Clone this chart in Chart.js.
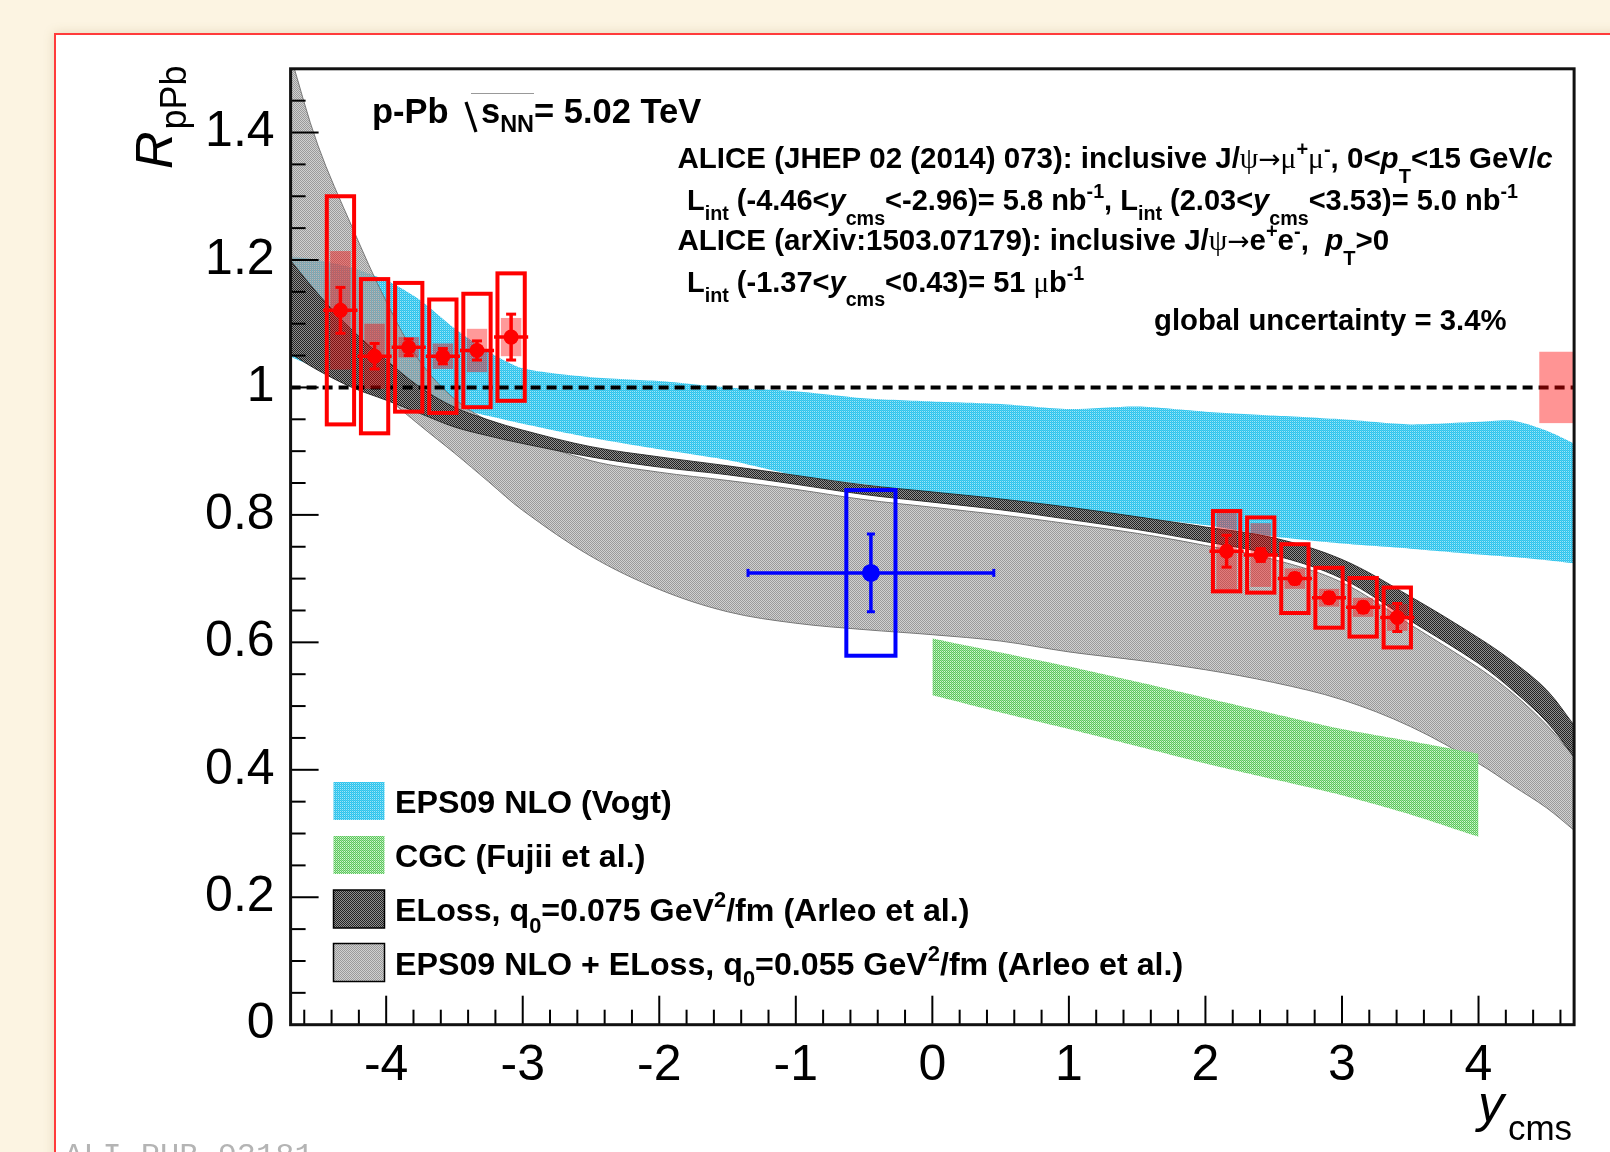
<!DOCTYPE html>
<html>
<head>
<meta charset="utf-8">
<title>ALICE J/psi RpPb vs ycms</title>
<script src="https://cdn.jsdelivr.net/npm/chart.js@4.4.1/dist/chart.umd.min.js"></script>
<style>
  html, body { margin: 0; padding: 0; }
  body { width: 1610px; height: 1152px; overflow: hidden; position: relative; background: #fcf4e2; }
  #sheet { position: absolute; left: 54px; top: 33px; width: 1600px; height: 1200px; background: #fff;
           border: 2px solid #ff3b3b; box-sizing: border-box; box-shadow: 0 0 10px rgba(160,130,70,0.25); }
  #wrap { position: absolute; left: 0; top: 0; width: 1610px; height: 1152px; }
</style>
</head>
<body>
<div id="sheet"></div>
<div id="wrap"><canvas id="rpPbChart" width="1610" height="1152"></canvas></div>
<script>
// --- bandas de modelos ---
const bandX       = [-4.7, -4.5, -4.25, -4.0, -3.75, -3.5, -3.25, -3.0, -2.5, -2.0, -1.5, -1.0, -0.5, 0, 0.5, 1.0, 1.5, 2.0, 2.5, 3.0, 3.5, 4.0, 4.25, 4.5, 4.7];
const vogtHi      = [1.206, 1.2, 1.188, 1.168, 1.137, 1.093, 1.056, 1.03, 1.016, 1.01, 1.0, 0.994, 0.983, 0.978, 0.974, 0.966, 0.97, 0.962, 0.956, 0.95, 0.942, 0.946, 0.948, 0.932, 0.912];
const vogtLo      = [1.048, 1.03, 1.012, 0.998, 0.984, 0.969, 0.955, 0.943, 0.921, 0.903, 0.886, 0.862, 0.848, 0.833, 0.818, 0.808, 0.796, 0.784, 0.766, 0.755, 0.747, 0.738, 0.734, 0.729, 0.724];
const eloss075Hi  = [1.199, 1.147, 1.09, 1.043, 1.0, 0.969, 0.949, 0.933, 0.907, 0.891, 0.877, 0.862, 0.847, 0.836, 0.825, 0.812, 0.797, 0.781, 0.764, 0.73, 0.672, 0.607, 0.57, 0.525, 0.47];
const eloss075Lo  = [1.053, 1.027, 1.0, 0.98, 0.959, 0.938, 0.924, 0.912, 0.891, 0.875, 0.863, 0.848, 0.832, 0.82, 0.808, 0.793, 0.777, 0.758, 0.737, 0.7, 0.634, 0.567, 0.525, 0.475, 0.42];
const eps055Hi    = [1.52, 1.38, 1.252, 1.135, 1.04, 0.982, 0.947, 0.922, 0.885, 0.867, 0.854, 0.84, 0.824, 0.812, 0.8, 0.786, 0.771, 0.752, 0.73, 0.694, 0.628, 0.56, 0.52, 0.47, 0.42];
const eps055Lo    = [1.15, 1.09, 1.035, 0.985, 0.94, 0.897, 0.852, 0.807, 0.735, 0.683, 0.648, 0.63, 0.62, 0.612, 0.602, 0.585, 0.572, 0.557, 0.537, 0.51, 0.468, 0.41, 0.375, 0.34, 0.305];
const cgcX        = [0, 0.5, 1.0, 1.5, 2.0, 2.5, 3.0, 3.5, 4.0];
const cgcHi       = [0.606, 0.584, 0.562, 0.538, 0.513, 0.488, 0.464, 0.445, 0.425];
const cgcLo       = [0.517, 0.49, 0.464, 0.437, 0.41, 0.385, 0.36, 0.33, 0.295];

// --- datos ALICE ---
const backX    = [-4.335, -4.085, -3.835, -3.585, -3.335, -3.085];
const backR    = [1.121, 1.049, 1.063, 1.049, 1.058, 1.079];
const backStat = [0.036, 0.02, 0.013, 0.012, 0.015, 0.036];
const backSyst = [0.179, 0.121, 0.101, 0.089, 0.089, 0.1];
const backCorr = [0.093, 0.051, 0.016, 0.02, 0.034, 0.03];
const fwdX     = [2.155, 2.405, 2.655, 2.905, 3.155, 3.405];
const fwdR     = [0.743, 0.737, 0.7, 0.67, 0.655, 0.639];
const fwdStat  = [0.025, 0.01, 0.008, 0.008, 0.008, 0.022];
const fwdSyst  = [0.063, 0.059, 0.054, 0.047, 0.046, 0.047];
const fwdCorr  = [0.062, 0.05, 0.016, 0.014, 0.015, 0.021];
const midX     = [-0.45];
const midR     = [0.709];
const midStat  = [0.061];
const midSyst  = [0.13];
const midXerr  = [0.9];
const globalUnc = 0.056;

const SANS = '"Liberation Sans", Arial, Helvetica, sans-serif';
const SERIF = '"Liberation Serif", "Times New Roman", serif';
const MONO = '"Liberation Mono", "Courier New", monospace';

const canvas = document.getElementById('rpPbChart');
const mainCtx = canvas.getContext('2d');

function makePattern(cells) {
    const t = document.createElement('canvas');
    t.width = 2; t.height = 2;
    const g = t.getContext('2d');
    cells.forEach(c => { g.fillStyle = c[2]; g.fillRect(c[0], c[1], 1, 1); });
    return mainCtx.createPattern(t, 'repeat');
}

// tramas de relleno tipo ROOT (poco contraste para evitar moire)
const patCyan  = makePattern([[0, 0, '#2cc4ec'], [1, 1, '#2cc4ec'], [1, 0, '#4ccdf0'], [0, 1, '#a2e3f6']]);
const patGreen = makePattern([[0, 0, '#5acb5a'], [1, 1, '#5acb5a'], [1, 0, '#a2dea2'], [0, 1, '#d6f2d6']]);
const patDark  = makePattern([[0, 0, '#222222'], [1, 1, '#222222'], [1, 0, '#8e8e8e'], [0, 1, '#8e8e8e']]);
const patLight = makePattern([[0, 0, '#9a9a9a'], [1, 1, '#9a9a9a'], [1, 0, 'rgba(150,150,150,0.45)'], [0, 1, 'rgba(150,150,150,0.45)']]);

const pts = (xs, ys) => xs.map((x, i) => ({ x: x, y: ys[i] }));

function bandPair(name, xs, hi, lo, pattern, edge, edgeW, order, tension) {
    return [
        { label: name + ' hi', data: pts(xs, hi), borderColor: edge, borderWidth: edgeW, pointRadius: 0, fill: false, tension: tension, order: order },
        { label: name + ' lo', data: pts(xs, lo), borderColor: edge, borderWidth: edgeW, pointRadius: 0, fill: '-1', backgroundColor: pattern, tension: tension, order: order }
    ];
}

const NONE = 'rgba(0,0,0,0)';
const datasets = [
    { label: 'mumu', data: pts(backX.concat(fwdX), backR.concat(fwdR)), showLine: false, pointRadius: 7.5, pointBackgroundColor: '#ff0000', pointBorderWidth: 0, order: 0 },
    { label: 'ee', data: pts(midX, midR), showLine: false, pointRadius: 9, pointBackgroundColor: '#0000ff', pointBorderWidth: 0, order: 0 },
    { label: 'unity', data: [{ x: -4.7, y: 1 }, { x: 4.7, y: 1 }], borderColor: '#000', borderWidth: 4, borderDash: [10, 6], pointRadius: 0, fill: false, order: 1 }
].concat(
    bandPair('cgc', cgcX, cgcHi, cgcLo, patGreen, NONE, 1, 3, 0.2),
    bandPair('eloss075', bandX, eloss075Hi, eloss075Lo, patDark, 'rgba(30,30,30,0.85)', 1, 4, 0.35),
    bandPair('eps055', bandX, eps055Hi, eps055Lo, patLight, 'rgba(110,110,110,0.9)', 1, 5, 0.35),
    bandPair('vogt', bandX, vogtHi, vogtLo, patCyan, NONE, 1, 6, 0.25)
);

// texto con sub/superindices al estilo TLatex
function drawRich(ctx, segs, x, y, size) {
    let cx = x;
    segs.forEach(s => {
        const txt = s[0], kind = s[1] || 'b';
        let f, dy = 0;
        if (kind === 's') f = size + 'px ' + SERIF;
        else if (kind === 'a') f = (size * 0.9) + 'px "DejaVu Sans", sans-serif';
        else if (kind === 'bi') f = 'italic bold ' + size + 'px ' + SANS;
        else if (kind === '_') { f = 'bold ' + (size * 0.68) + 'px ' + SANS; dy = size * (s[2] !== undefined ? s[2] : 0.34); }
        else if (kind === '^') { f = 'bold ' + (size * 0.68) + 'px ' + SANS; dy = -size * 0.42; }
        else f = 'bold ' + size + 'px ' + SANS;
        ctx.font = f;
        ctx.fillText(txt, cx, y + dy);
        cx += ctx.measureText(txt).width;
    });
    return cx - x;
}

function rectPx(ctx, x0, y0, x1, y1, mode) {
    const l = Math.min(x0, x1), t = Math.min(y0, y1);
    if (mode === 'fill') ctx.fillRect(l, t, Math.abs(x1 - x0), Math.abs(y1 - y0));
    else ctx.strokeRect(l, t, Math.abs(x1 - x0), Math.abs(y1 - y0));
}

function seg(ctx, x0, y0, x1, y1) {
    ctx.beginPath(); ctx.moveTo(x0, y0); ctx.lineTo(x1, y1); ctx.stroke();
}

const alicePlot = {
    id: 'alicePlot',
    afterDatasetDraw(chart, args) {
        if (args.index !== 2) return;
        const ctx = chart.ctx;
        const X = v => chart.scales.x.getPixelForValue(v);
        const Y = v => chart.scales.y.getPixelForValue(v);
        ctx.save();

        // incertidumbre global
        ctx.fillStyle = 'rgba(255,0,0,0.42)';
        rectPx(ctx, X(4.445), Y(1 + globalUnc), X(4.7), Y(1 - globalUnc), 'fill');

        // J/psi -> mu mu
        const xs = backX.concat(fwdX), rs = backR.concat(fwdR);
        const st = backStat.concat(fwdStat), sy = backSyst.concat(fwdSyst), co = backCorr.concat(fwdCorr);
        xs.forEach((x, i) => {
            ctx.fillStyle = 'rgba(255,0,0,0.4)';
            rectPx(ctx, X(x - 0.075), Y(rs[i] + co[i]), X(x + 0.075), Y(rs[i] - co[i]), 'fill');
            ctx.strokeStyle = '#ff0000';
            ctx.lineWidth = 4;
            rectPx(ctx, X(x - 0.1), Y(rs[i] + sy[i]), X(x + 0.1), Y(rs[i] - sy[i]));
            ctx.lineWidth = 3.5;
            seg(ctx, X(x - 0.125), Y(rs[i]), X(x + 0.125), Y(rs[i]));
            seg(ctx, X(x), Y(rs[i] + st[i]), X(x), Y(rs[i] - st[i]));
            ctx.lineWidth = 3;
            seg(ctx, X(x) - 5, Y(rs[i] + st[i]), X(x) + 5, Y(rs[i] + st[i]));
            seg(ctx, X(x) - 5, Y(rs[i] - st[i]), X(x) + 5, Y(rs[i] - st[i]));
        });

        // J/psi -> e e
        midX.forEach((x, i) => {
            const r = midR[i];
            ctx.strokeStyle = '#0000ff';
            ctx.lineWidth = 4;
            rectPx(ctx, X(x - 0.18), Y(r + midSyst[i]), X(x + 0.18), Y(r - midSyst[i]));
            ctx.lineWidth = 3.5;
            seg(ctx, X(x - midXerr[i]), Y(r), X(x + midXerr[i]), Y(r));
            seg(ctx, X(x), Y(r + midStat[i]), X(x), Y(r - midStat[i]));
            ctx.lineWidth = 3;
            seg(ctx, X(x - midXerr[i]), Y(r) - 4, X(x - midXerr[i]), Y(r) + 4);
            seg(ctx, X(x + midXerr[i]), Y(r) - 4, X(x + midXerr[i]), Y(r) + 4);
            seg(ctx, X(x) - 4, Y(r + midStat[i]), X(x) + 4, Y(r + midStat[i]));
            seg(ctx, X(x) - 4, Y(r - midStat[i]), X(x) + 4, Y(r - midStat[i]));
        });
        ctx.restore();
    },
    afterDraw(chart) {
        const ctx = chart.ctx, a = chart.chartArea;
        const X = v => chart.scales.x.getPixelForValue(v);
        const Y = v => chart.scales.y.getPixelForValue(v);
        ctx.save();

        // marcas de los ejes (hacia dentro)
        ctx.strokeStyle = '#000';
        ctx.lineWidth = 2;
        for (let k = 1; k < 30; k++) {
            const yy = Y(k * 0.05);
            seg(ctx, a.left, yy, a.left + (k % 4 === 0 ? 28 : 15), yy);
        }
        for (let k = -23; k <= 23; k++) {
            const xx = X(k * 0.2);
            seg(ctx, xx, a.bottom, xx, a.bottom - (k % 5 === 0 ? 29 : 15));
        }
        ctx.lineWidth = 3;
        ctx.strokeStyle = '#111';
        ctx.strokeRect(a.left, a.top, a.right - a.left, a.bottom - a.top);

        // titulos de ejes
        ctx.fillStyle = '#000';
        ctx.textBaseline = 'alphabetic';
        ctx.textAlign = 'left';
        ctx.font = '35px ' + SANS;
        const wCms = ctx.measureText('cms').width;
        ctx.fillText('cms', a.right - wCms - 2, 1140);
        ctx.font = 'italic 52px ' + SANS;
        const wy = ctx.measureText('y').width;
        ctx.fillText('y', a.right - wCms - wy - 6, 1121);

        ctx.save();
        ctx.translate(172, 169);
        ctx.rotate(-Math.PI / 2);
        ctx.font = 'italic 52px ' + SANS;
        ctx.fillText('R', 0, 0);
        const wR = ctx.measureText('R').width;
        ctx.font = '36px ' + SANS;
        ctx.fillText('pPb', wR + 2, 14);
        ctx.restore();

        // encabezado
        ctx.font = 'bold 34.5px ' + SANS;
        ctx.fillText('p-Pb', 372, 123);
        ctx.lineWidth = 3.2;
        ctx.strokeStyle = '#000';
        seg(ctx, 466, 102, 476, 132);
        ctx.lineWidth = 1;
        ctx.strokeStyle = '#999';
        seg(ctx, 471, 93.5, 534, 93.5);
        drawRich(ctx, [['s'], ['NN', '_', 0.26], ['= 5.02 TeV']], 481, 123, 34.5);

        // informacion de las medidas
        const fs = 29.5;
        drawRich(ctx, [['ALICE (JHEP 02 (2014) 073): inclusive J/'], ['\u03C8', 's'], ['\u2192', 'a'], ['\u03BC', 's'], ['+', '^'], ['\u03BC', 's'], ['-', '^'],
                       [', 0<'], ['p', 'bi'], ['T', '_', 0.5], ['<15 GeV/'], ['c', 'bi']], 677.5, 168.3, fs);
        drawRich(ctx, [['L'], ['int', '_'], [' (-4.46<'], ['y', 'bi'], ['cms', '_', 0.5], ['<-2.96)= 5.8 nb'], ['-1', '^'],
                       [', L'], ['int', '_'], [' (2.03<'], ['y', 'bi'], ['cms', '_', 0.5], ['<3.53)= 5.0 nb'], ['-1', '^']], 687, 210, 29);
        drawRich(ctx, [['ALICE (arXiv:1503.07179): inclusive J/'], ['\u03C8', 's'], ['\u2192', 'a'], ['e'], ['+', '^'], ['e'], ['-', '^'],
                       [',  '], ['p', 'bi'], ['T', '_', 0.5], ['>0']], 677.5, 250, fs);
        drawRich(ctx, [['L'], ['int', '_'], [' (-1.37<'], ['y', 'bi'], ['cms', '_', 0.5], ['<0.43)= 51 '], ['\u03BC', 's'], ['b'], ['-1', '^']], 687, 291.7, 29);
        drawRich(ctx, [['global uncertainty = 3.4%']], 1154, 330, 29.3);

        // leyenda
        const legendRows = [
            { pat: patCyan, edge: null, segs: [['EPS09 NLO (Vogt)']] },
            { pat: patGreen, edge: null, segs: [['CGC (Fujii et al.)']] },
            { pat: patDark, edge: '#000', segs: [['ELoss, q'], ['0', '_', 0.36], ['=0.075 GeV'], ['2', '^'], ['/fm (Arleo et al.)']] },
            { pat: patLight, edge: '#000', segs: [['EPS09 NLO + ELoss, q'], ['0', '_', 0.36], ['=0.055 GeV'], ['2', '^'], ['/fm (Arleo et al.)']] }
        ];
        const rowTop = [782, 836, 890, 943.5];
        legendRows.forEach((r, i) => {
            ctx.fillStyle = r.pat;
            ctx.fillRect(333.5, rowTop[i], 51, 38);
            if (r.edge) {
                ctx.strokeStyle = r.edge;
                ctx.lineWidth = 1.5;
                ctx.strokeRect(333.5, rowTop[i], 51, 38);
            }
            ctx.fillStyle = '#000';
            drawRich(ctx, r.segs, 395, rowTop[i] + 31, 32.2);
        });

        // identificador de la figura
        ctx.fillStyle = '#b4b4b4';
        ctx.font = '32px ' + MONO;
        ctx.fillText('ALI-PUB-93181', 64, 1165);
        ctx.restore();
    }
};

new Chart(mainCtx, {
    type: 'line',
    data: { datasets: datasets },
    options: {
        responsive: false,
        animation: false,
        events: [],
        layout: { padding: { top: 68.8, right: 35.9, left: 0, bottom: 0 } },
        plugins: { legend: { display: false }, tooltip: { enabled: false } },
        scales: {
            x: {
                type: 'linear', min: -4.7, max: 4.7,
                grid: { display: false, drawTicks: false },
                border: { display: false },
                ticks: {
                    stepSize: 0.1, autoSkip: false, maxRotation: 0, padding: 12, color: '#000',
                    font: { family: SANS, size: 50 },
                    callback: v => Math.abs(v - Math.round(v)) < 1e-6 ? String(Math.round(v)) : ''
                },
                afterFit: s => { s.height = 127.3; }
            },
            y: {
                type: 'linear', min: 0, max: 1.5,
                grid: { display: false, drawTicks: false },
                border: { display: false },
                ticks: {
                    stepSize: 0.05, autoSkip: false, padding: 16, color: '#000',
                    font: { family: SANS, size: 50 },
                    callback: v => (Math.abs(v * 5 - Math.round(v * 5)) < 1e-6 && v < 1.45) ? String(Math.round(v * 10) / 10) : ''
                },
                afterFit: s => { s.width = 290.6; }
            }
        }
    },
    plugins: [alicePlot]
});
</script>
</body>
</html>
